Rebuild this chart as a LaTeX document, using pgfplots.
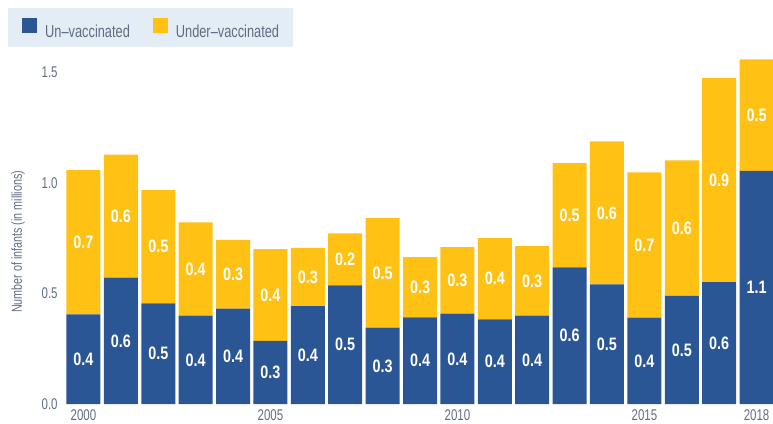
\documentclass[border=0pt]{standalone}
\usepackage{pgfplots}
\pgfplotsset{compat=1.18}
\usepackage{pgfplotstable}
\usepackage{fontspec}
\setmainfont[FakeStretch=0.74]{Liberation Sans}
\newfontfamily\labfont[FakeStretch=0.8]{Liberation Sans}
\definecolor{unblue}{HTML}{2A5696}
\definecolor{undyellow}{HTML}{FFC113}
\definecolor{legbg}{HTML}{E4ECF6}
\definecolor{txtgray}{HTML}{606C84}

\pgfplotstableread{
year un under
2000 0.405 0.652
2001 0.571 0.556
2002 0.455 0.512
2003 0.399 0.422
2004 0.431 0.311
2005 0.285 0.415
2006 0.442 0.264
2007 0.536 0.235
2008 0.345 0.495
2009 0.392 0.272
2010 0.408 0.301
2011 0.383 0.367
2012 0.399 0.315
2013 0.618 0.471
2014 0.541 0.646
2015 0.390 0.657
2016 0.489 0.612
2017 0.551 0.923
2018 1.054 0.504
}\data

\pgfplotsset{
  common/.style={
    at={(64.8pt,19pt)}, anchor=south west,
    scale only axis, width=708.2pt, height=354pt,
    xmin=1999.5, xmax=2018.44, ymin=0, ymax=1.6,
    /pgf/number format/assume math mode=true,
  }
}

\begin{document}
\begin{tikzpicture}
\path[use as bounding box] (0,0) rectangle (773pt,423pt);
\begin{axis}[
  common,
  ybar stacked, bar width=34pt,
  axis line style={draw=none}, tick style={draw=none},
  xtick={2000,2005,2010,2015,2018},
  ytick={0,0.5,1,1.5},
  ticklabel style={font=\fontsize{15.5}{17}\selectfont, text=txtgray},
  xticklabel style={/pgf/number format/1000 sep={}, anchor=north, inner sep=0pt, yshift=-5pt},
  yticklabel style={/pgf/number format/.cd, fixed, fixed zerofill, precision=1, /tikz/.cd, anchor=east, inner sep=0pt, xshift=-7pt},
  ylabel={Number of infants (in millions)},
  ylabel style={at={(axis description cs:-0.066,0.458)}, anchor=center, font=\fontsize{14.5}{16}\selectfont, text=txtgray},
  legend columns=2,
  legend cell align=left,
  legend style={at={(axis description cs:-0.0802,1.1186)}, anchor=north west,
    fill=legbg, draw=none, inner xsep=14pt, inner ysep=9.5pt,
    font=\fontsize{17.3}{19}\selectfont, text=txtgray,
    nodes={inner sep=0pt, text depth=0pt},
    /tikz/every odd column/.append style={column sep=8pt},
    /tikz/every even column/.append style={column sep=23pt}},
]
\addplot[fill=unblue, draw=none, legend image code/.code={\fill[unblue] (0pt,-1.5pt) rectangle (15pt,13.5pt);}]
  table[x=year, y=un] {\data};
\addlegendentry{Un–vaccinated}
\addplot[fill=undyellow, draw=none, legend image code/.code={\fill[undyellow] (0pt,-1.5pt) rectangle (15pt,13.5pt);}]
  table[x=year, y=under] {\data};
\addlegendentry{Under–vaccinated}
\end{axis}
\begin{axis}[
  common, hide axis, clip=false,
  point meta=explicit,
  nodes near coords={\pgfmathprintnumber[fixed,fixed zerofill,precision=1]{\pgfplotspointmeta}},
  nodes near coords align={center},
  every node near coord/.append style={anchor=center, text=white, inner sep=0pt, font=\labfont\bfseries\fontsize{18}{20}\selectfont},
]
\addplot[draw=none, mark=none] table[x=year, y expr=\thisrow{un}/2, meta=un] {\data};
\addplot[draw=none, mark=none] table[x=year, y expr=\thisrow{un}+\thisrow{under}/2, meta=under] {\data};
\end{axis}
\end{tikzpicture}
\end{document}
